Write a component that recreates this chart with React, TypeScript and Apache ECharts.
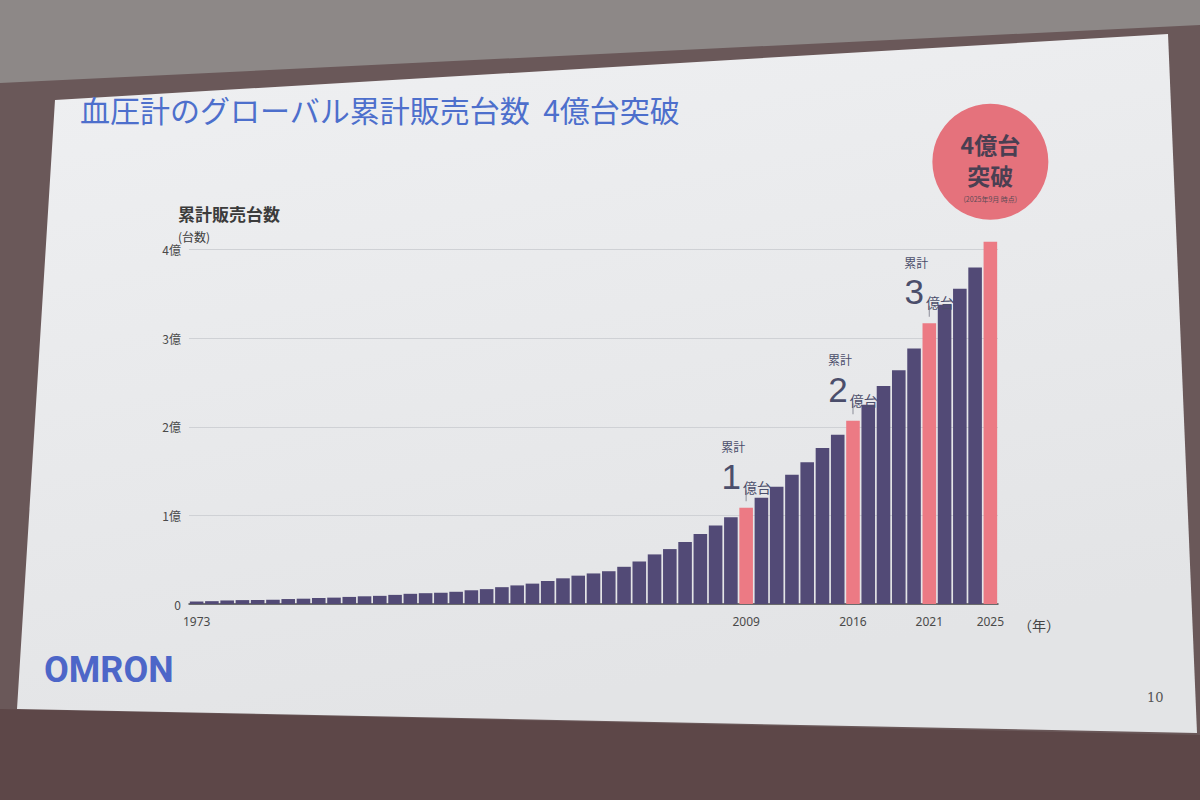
import React, { useEffect, useRef } from 'react';
import * as echarts from 'echarts';

// Years on the category axis
const years: string[] = [
  '1973', '1974', '1975', '1976', '1977', '1978', '1979', '1980', '1981', '1982',
  '1983', '1984', '1985', '1986', '1987', '1988', '1989', '1990', '1991', '1992',
  '1993', '1994', '1995', '1996', '1997', '1998', '1999', '2000', '2001', '2002',
  '2003', '2004', '2005', '2006', '2007', '2008', '2009', '2010', '2011', '2012',
  '2013', '2014', '2015', '2016', '2017', '2018', '2019', '2020', '2021', '2022',
  '2023', '2024', '2025',
];

// Cumulative units sold, in 億台 (hundreds of millions)
const cumulativeUnits: number[] = [
  0.028, 0.032, 0.040, 0.044, 0.045, 0.048, 0.056, 0.060, 0.068, 0.072,
  0.080, 0.087, 0.092, 0.103, 0.115, 0.122, 0.127, 0.138, 0.155, 0.168,
  0.19, 0.21, 0.23, 0.26, 0.29, 0.32, 0.345, 0.37, 0.42, 0.48,
  0.56, 0.62, 0.70, 0.79, 0.886, 0.98, 1.086, 1.20, 1.325, 1.46,
  1.60, 1.76, 1.91, 2.07, 2.25, 2.46, 2.64, 2.885, 3.17, 3.38,
  3.56, 3.80, 4.09,
];

const highlightYears: string[] = ['2009', '2016', '2021', '2025'];
const milestoneYears: string[] = ['2009', '2016', '2021'];
const milestoneNumbers: string[] = ['1', '2', '3'];
const breakthroughYear = '2025';
const shownYearLabels: string[] = ['1973', '2009', '2016', '2021', '2025'];
const yMin = 0;
const yMax = 4.2;
const yInterval = 1;

const NAVY = '#524a76';
const PINK = '#ec7a84';
const CIRCLE = '#e5727c';
const FONT = '"Noto Sans CJK JP", "Noto Sans", sans-serif';
const ANNO = '#4b4e6b';
const CLEAR = 'rgba(0,0,0,0)';

export default function App() {
  const ref = useRef<HTMLDivElement>(null);

  useEffect(() => {
    if (!ref.current) return;
    const chart = echarts.init(ref.current, undefined, { renderer: 'svg' });

    const seriesData = years.map((y, i) => {
      const item: any = { value: cumulativeUnits[i] };
      if (highlightYears.includes(y)) item.itemStyle = { color: PINK };
      return item;
    });

    const milestoneMarks = milestoneYears.flatMap((y, m) => {
      const v = cumulativeUnits[years.indexOf(y)];
      return [
        {
          coord: [y, v],
          symbol: 'circle',
          symbolSize: 0,
          itemStyle: { color: CLEAR },
          label: {
            show: true,
            position: 'inside',
            align: 'left',
            verticalAlign: 'middle',
            offset: [-25, -61],
            formatter: '累計',
            fontSize: 12,
            color: ANNO,
            fontFamily: FONT,
          },
        },
        {
          coord: [y, v],
          symbol: 'circle',
          symbolSize: 0,
          itemStyle: { color: CLEAR },
          label: {
            show: true,
            position: 'inside',
            align: 'center',
            verticalAlign: 'middle',
            offset: [0, -34],
            formatter: `{num|${milestoneNumbers[m]}}{unit|億台}`,
            rich: {
              num: { fontSize: 35, color: ANNO, lineHeight: 40, verticalAlign: 'bottom', fontFamily: '"Liberation Sans", sans-serif' },
              unit: { fontSize: 14, color: ANNO, lineHeight: 40, verticalAlign: 'bottom', fontFamily: FONT, padding: [0, 0, 0, 2] },
            },
          },
        },
        {
          coord: [y, v],
          symbol: 'rect',
          symbolSize: [1.2, 11],
          symbolOffset: [0, -12],
          itemStyle: { color: '#9a9ba5' },
          label: { show: false },
        },
      ];
    });

    const bIdx = years.indexOf(breakthroughYear);

    const option: any = {
      animation: false,
      backgroundColor: '#6a5859',
      textStyle: { fontFamily: FONT },
      grid: { left: 189, right: 202, top: 232, bottom: 196, outerBoundsMode: 'none' },
      xAxis: {
        type: 'category',
        data: years,
        axisTick: { show: false },
        axisLine: { lineStyle: { color: '#4a4a4a', width: 1.5 } },
        axisLabel: {
          interval: (_idx: number, val: string) => shownYearLabels.includes(val),
          color: '#4a4a4a',
          fontSize: 12,
          margin: 11,
          fontFamily: '"Noto Sans", sans-serif',
        },
      },
      yAxis: {
        type: 'value',
        min: yMin,
        max: yMax,
        interval: yInterval,
        axisLine: { show: false },
        axisTick: { show: false },
        axisLabel: {
          formatter: (v: number) => (v === 0 ? '0' : `${v}億`),
          color: '#4a4a4a',
          fontSize: 12,
          margin: 8,
          showMaxLabel: false,
        },
        splitLine: { lineStyle: { color: '#cfd1d5', width: 1 }, showMaxLine: false },
      },
      series: [
        {
          type: 'bar',
          data: seriesData,
          barCategoryGap: '11%',
          clip: false,
          itemStyle: { color: NAVY },
          markPoint: {
            label: { show: false },
            data: [
              ...milestoneMarks,
              {
                coord: [breakthroughYear, cumulativeUnits[bIdx]],
                symbol: 'circle',
                symbolSize: 116,
                symbolOffset: [0, -80],
                itemStyle: { color: CIRCLE },
                label: {
                  show: true,
                  position: 'inside',
                  offset: [0, 6],
                  formatter: '{big|4億台}\n{big|突破}\n{small|(2025年9月 時点)}',
                  rich: {
                    big: { fontSize: 23, fontWeight: 'bold', color: '#4a3f52', lineHeight: 31, fontFamily: FONT, align: 'center' },
                    small: { fontSize: 7, color: '#5a4a55', lineHeight: 16, fontFamily: FONT, align: 'center' },
                  },
                },
              },
            ],
          },
        },
      ],
      graphic: [
        // ceiling
        { type: 'polygon', z: -10, shape: { points: [[0, 0], [1200, 0], [1200, 25], [0, 83]] }, style: { fill: '#8d8887' } },
        // lower wall
        { type: 'polygon', z: -10, shape: { points: [[0, 709], [1200, 735], [1200, 800], [0, 800]] }, style: { fill: '#5d4748' } },
        // slide
        {
          type: 'polygon',
          z: -9,
          shape: { points: [[55, 100], [1168, 34], [1197, 733], [17, 709]] },
          style: {
            fill: new echarts.graphic.LinearGradient(0, 0, 0.3, 1, [
              { offset: 0, color: '#eff0f2' },
              { offset: 1, color: '#e3e4e6' },
            ]),
          },
        },
        {
          type: 'text', x: 80, y: 109,
          style: { text: '血圧計のグローバル累計販売台数  4億台突破', fontSize: 30, fill: '#4d6fcc', fontFamily: FONT, verticalAlign: 'middle' },
        },
        {
          type: 'text', x: 178, y: 213,
          style: { text: '累計販売台数', fontSize: 17, fontWeight: 'bold', fill: '#3b3b3b', fontFamily: FONT, verticalAlign: 'middle' },
        },
        {
          type: 'text', x: 178, y: 236,
          style: { text: '(台数)', fontSize: 12, fill: '#3b3b3b', fontFamily: FONT, verticalAlign: 'middle' },
        },
        {
          type: 'text', x: 1018, y: 625,
          style: { text: '（年）', fontSize: 14, fill: '#444', fontFamily: FONT, verticalAlign: 'middle' },
        },
        {
          type: 'text', x: 44, y: 670,
          style: { text: 'OMRON', fontSize: 36, fontWeight: 'bold', fill: '#4d66c8', fontFamily: 'Roboto, sans-serif', verticalAlign: 'middle' },
        },
        {
          type: 'text', x: 1147, y: 697,
          style: { text: '10', fontSize: 13, fill: '#555', fontFamily: '"DejaVu Serif", serif', verticalAlign: 'middle' },
        },
      ],
    };

    chart.setOption(option);
    return () => chart.dispose();
  }, []);

  return (
    <div
      ref={ref}
      style={{ position: 'absolute', left: 0, top: 0, width: 1200, height: 800 }}
    />
  );
}
